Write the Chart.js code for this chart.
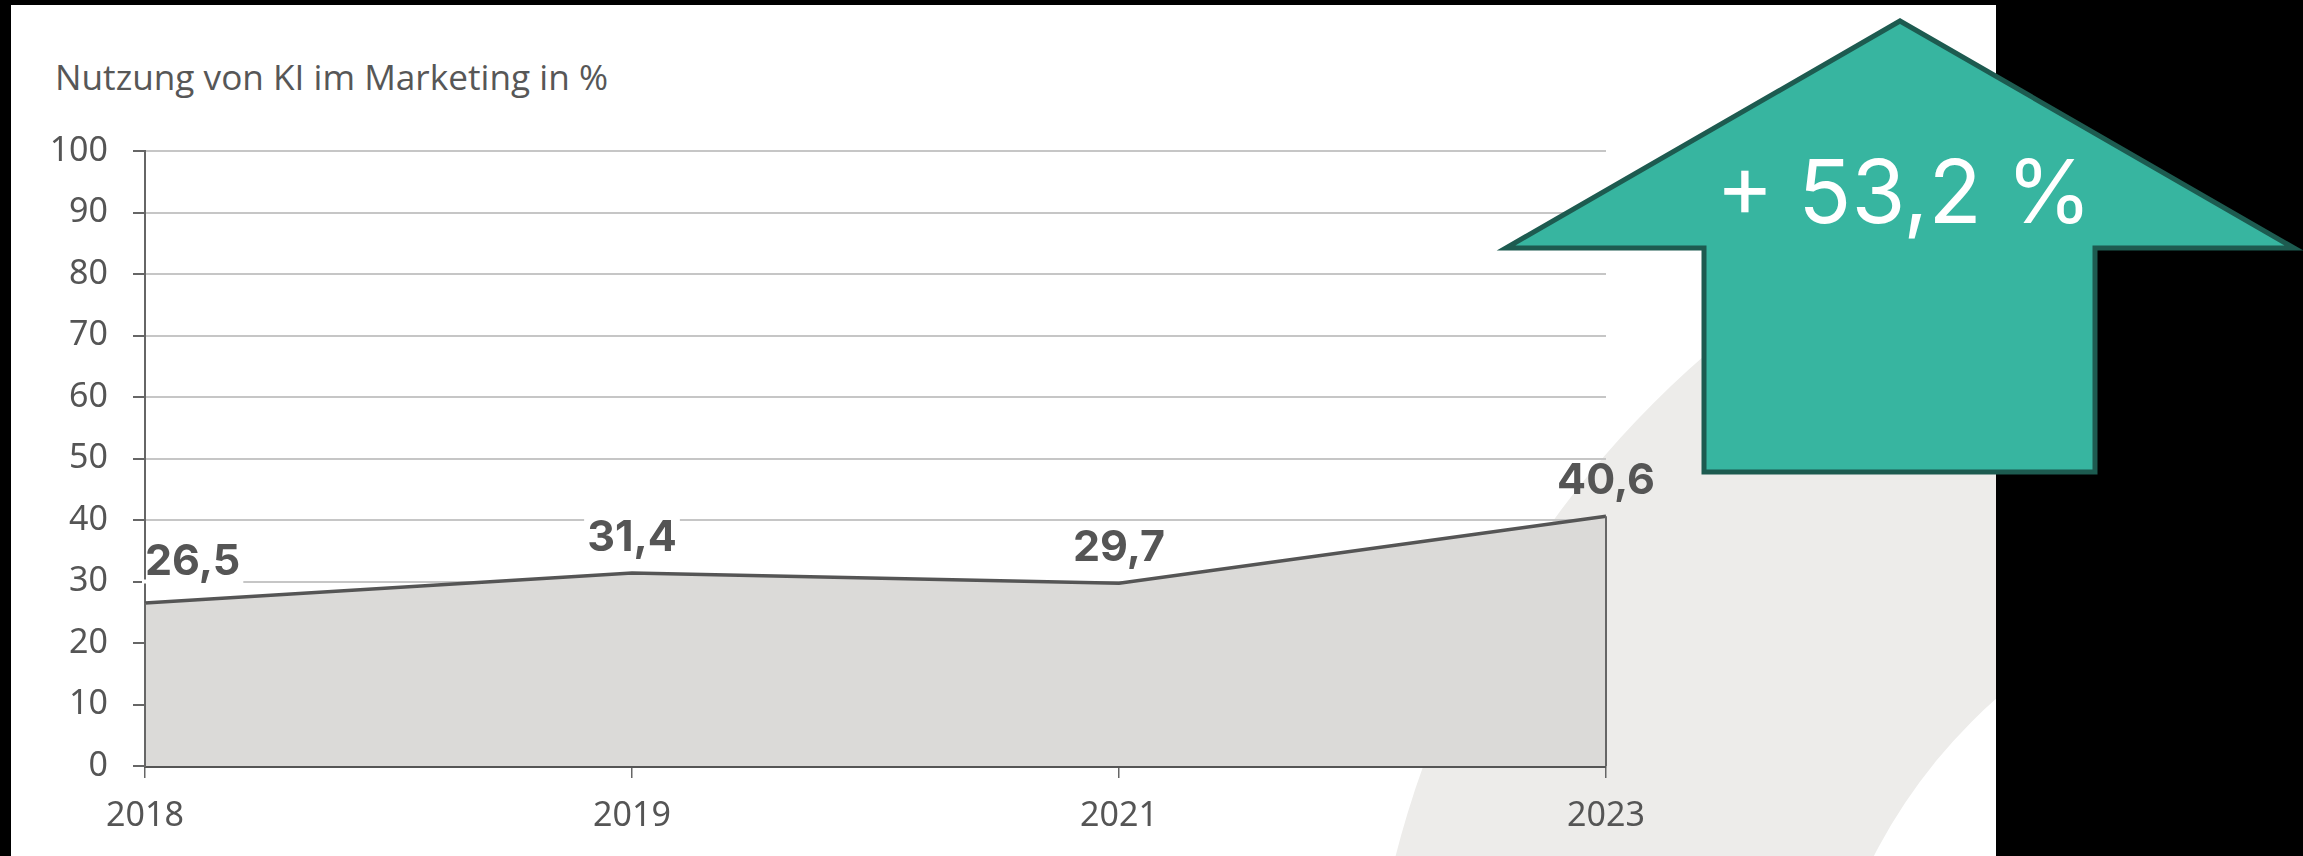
<!DOCTYPE html>
<html lang="de">
<head>
    <meta charset="UTF-8">
    <title>Nutzung von KI im Marketing</title>
    <script src="https://cdn.jsdelivr.net/npm/chart.js"></script>
    <style>
        body {
            margin: 0;
            background: #000;
            width: 2303px;
            height: 856px;
            overflow: hidden;
            position: relative;
        }
        svg, canvas {
            position: absolute;
            left: 0;
            top: 0;
        }
    </style>
</head>
<body>
    <!-- panel, decorative ring and title behind the chart -->
    <svg width="2303" height="856">
        <defs>
            <clipPath id="panelClip">
                <rect x="11" y="5" width="1985" height="851"></rect>
            </clipPath>
        </defs>
        <rect x="11" y="5" width="1985" height="851" fill="#fff"></rect>
        <path clip-path="url(#panelClip)" fill="#edecea" fill-rule="evenodd"
              d="M 1365 1100 a 985 985 0 1 0 1970 0 a 985 985 0 1 0 -1970 0 Z
                 M 1815 1100 a 535 535 0 1 0 1070 0 a 535 535 0 1 0 -1070 0 Z"></path>
        <text x="55" y="90" font-family="Open Sans" font-size="34" fill="#575757"
              textLength="553" lengthAdjust="spacingAndGlyphs">Nutzung von KI im Marketing in %</text>
    </svg>

    <canvas id="chart" width="2303" height="856"></canvas>

    <!-- growth arrow on top -->
    <svg width="2303" height="856" style="pointer-events:none">
        <polygon points="1900,21 2294,248 2095,248 2095,472 1704,472 1704,248 1506,248"
                 fill="#37b5a0" stroke="#1d5b50" stroke-width="5" stroke-linejoin="miter"></polygon>
        <text x="1716" y="223" font-family="Inter" font-size="88" fill="#fff"
              textLength="376" lengthAdjust="spacingAndGlyphs">+ 53,2 %</text>
    </svg>

    <script>
        const years = ['2018', '2019', '2021', '2023'];
        const usage = [26.5, 31.4, 29.7, 40.6];
        const usageLabels = ['26,5', '31,4', '29,7', '40,6'];

        // value labels above the points, gridlines under them are blanked out
        const valueLabels = {
            id: 'valueLabels',
            afterDatasetsDraw(chart) {
                const ctx = chart.ctx;
                const meta = chart.getDatasetMeta(0);
                const yScale = chart.scales.y;
                const area = chart.chartArea;

                // side edges of the area
                ctx.save();
                ctx.strokeStyle = '#666';
                ctx.lineWidth = 2;
                [0, meta.data.length - 1].forEach(i => {
                    const p = meta.data[i];
                    ctx.beginPath();
                    ctx.moveTo(p.x, p.y);
                    ctx.lineTo(p.x, area.bottom);
                    ctx.stroke();
                });

                ctx.font = 'bold 43px Inter';
                ctx.textBaseline = 'alphabetic';
                meta.data.forEach((p, i) => {
                    const text = usageLabels[i];
                    const w = ctx.measureText(text).width;
                    const x0 = i === 0 ? p.x : p.x - w / 2;
                    const base = p.y - (i === 0 ? 28 : 22);
                    const top = base - 34, bottom = base + 10;
                    ctx.strokeStyle = '#fff';
                    ctx.lineWidth = 4;
                    yScale.ticks.forEach(t => {
                        const gy = yScale.getPixelForValue(t.value);
                        if (gy > top && gy < bottom) {
                            ctx.beginPath();
                            ctx.moveTo(x0 - 3, gy);
                            ctx.lineTo(x0 + w + 3, gy);
                            ctx.stroke();
                        }
                    });
                    ctx.fillStyle = '#555';
                    ctx.textAlign = 'left';
                    ctx.fillText(text, x0, base);
                });
                ctx.restore();
            }
        };

        const ctx = document.getElementById('chart').getContext('2d');
        new Chart(ctx, {
            type: 'line',
            data: {
                labels: years,
                datasets: [{
                    data: usage,
                    borderColor: '#555',
                    borderWidth: 3.5,
                    backgroundColor: '#dbdad8',
                    fill: 'origin',
                    tension: 0,
                    pointRadius: 0
                }]
            },
            options: {
                responsive: false,
                animation: false,
                layout: {
                    padding: { left: 0, top: 151, right: 697, bottom: 0 }
                },
                plugins: {
                    legend: { display: false },
                    tooltip: { enabled: false }
                },
                scales: {
                    x: {
                        offset: false,
                        z: 1,
                        afterFit: s => { s.height = 90; },
                        grid: {
                            drawOnChartArea: false,
                            drawTicks: true,
                            tickLength: 12,
                            tickColor: '#666',
                            lineWidth: 1.5
                        },
                        border: { color: '#555', width: 3 },
                        ticks: {
                            font: { family: 'Noto Sans', size: 34 },
                            color: '#555',
                            padding: 18,
                            maxRotation: 0
                        }
                    },
                    y: {
                        min: 0,
                        max: 100,
                        afterFit: s => { s.width = 145; },
                        grid: {
                            color: c => (c.tick && c.tick.value === 0) ? '#555' : '#c6c6c6',
                            lineWidth: 2,
                            tickLength: 12,
                            tickColor: '#666'
                        },
                        border: { color: '#666', width: 2 },
                        ticks: {
                            stepSize: 10,
                            font: { family: 'Noto Sans', size: 34 },
                            color: '#555',
                            padding: 25
                        }
                    }
                }
            },
            plugins: [valueLabels]
        });
    </script>
</body>
</html>
